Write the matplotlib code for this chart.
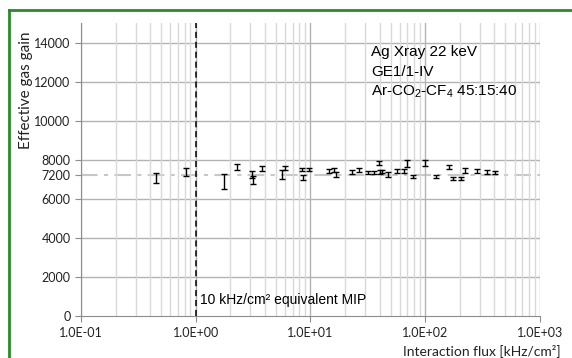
import matplotlib
matplotlib.use("Agg")
import matplotlib.pyplot as plt
from matplotlib.ticker import FixedLocator, FixedFormatter, LogLocator, NullFormatter

flux = [0.454, 0.823, 1.75, 2.29, 3.10, 3.18, 3.81, 5.62, 5.97, 8.45, 8.6, 9.78,
        14.4, 15.9, 16.6, 22.9, 26.2, 31.6, 36.1, 39.6, 40.2, 41.9, 47.8, 56.5,
        65.9, 70.0, 78.0, 100, 124, 161, 173, 204, 223, 282, 344, 407]
gain = [7060, 7360, 6870, 7630, 7230, 6950, 7540, 7260, 7560, 7500, 7100, 7500,
        7430, 7470, 7250, 7390, 7480, 7350, 7350, 7810, 7390, 7400, 7240, 7410,
        7430, 7800, 7140, 7830, 7120, 7630, 7060, 7060, 7460, 7430, 7370, 7350]
gain_err = [250, 210, 390, 150, 170, 200, 120, 230, 110, 100, 130, 100,
            110, 100, 120, 100, 110, 90, 90, 100, 100, 90, 110, 110,
            110, 170, 90, 140, 80, 110, 80, 80, 140, 110, 90, 90]

ref_gain = 7200
mip_flux = 1.0
x_ticks = [0.1, 1, 10, 100, 1000]
x_labels = ["1.0E-01", "1.0E+00", "1.0E+01", "1.0E+02", "1.0E+03"]
y_ticks = [0, 2000, 4000, 6000, 7200, 8000, 10000, 12000, 14000]
y_grid = [2000, 4000, 6000, 8000, 10000, 12000, 14000]

plt.rcParams["mathtext.fontset"] = "custom"
plt.rcParams["mathtext.rm"] = "Liberation Sans"
plt.rcParams["mathtext.it"] = "Liberation Sans"

fig = plt.figure(figsize=(5.72, 3.58), dpi=100)
ax = fig.add_axes([81 / 572, 1 - 316 / 358, (540 - 81) / 572, (316 - 23) / 358])

ax.set_xscale("log")
ax.set_xlim(0.1, 1000)
ax.set_ylim(0, 15000)

# grid
ax.xaxis.set_major_locator(FixedLocator(x_ticks))
ax.xaxis.set_major_formatter(FixedFormatter(x_labels))
ax.xaxis.set_minor_locator(LogLocator(base=10, subs=range(2, 10)))
ax.xaxis.set_minor_formatter(NullFormatter())
ax.grid(which="major", axis="x", color="#b3b3b3", lw=1.0)
ax.grid(which="minor", axis="x", color="#d9d9d9", lw=1.0)
for g in y_grid:
    ax.axhline(g, color="#b3b3b3", lw=1.0, zorder=0.5)

ax.set_yticks(y_ticks)
ax.set_yticklabels([str(t) for t in y_ticks])

ax.axhline(ref_gain, color="#c8c8c8", lw=1.5, ls=(0, (8, 3, 2, 3)), zorder=1)
ax.axvline(mip_flux, color="black", lw=1.1, ls=(0, (4, 2.5)), zorder=2)

ax.errorbar(flux, gain, yerr=gain_err, fmt="none", ecolor="black",
            elinewidth=1.0, capsize=2.5, capthick=1.0, zorder=3)

for s in ["top", "right"]:
    ax.spines[s].set_visible(False)
for s in ["left", "bottom"]:
    ax.spines[s].set_color("#8c8c8c")
ax.tick_params(which="major", length=4, color="#8c8c8c", labelsize=9,
               labelcolor="#222222")
ax.tick_params(which="minor", length=0)
ax.tick_params(axis="x", pad=4)
for lab in ax.get_xticklabels() + ax.get_yticklabels():
    lab.set_fontfamily("Lato")

# axis titles sit where the original placed them
fig.text(26 / 572, 1 - 90 / 358, "Effective gas gain", rotation=90, ha="center",
         va="center", fontsize=11, family="Lato", color="#222222")
fig.text(561 / 572, 1 - 351 / 358, "Interaction flux [kHz/cm²]", ha="right",
         va="center", fontsize=10, family="Lato", color="#222222")

# annotation block
fig.text(371 / 572, 1 - 52 / 358, "Ag Xray 22 keV", ha="left", va="center",
         fontsize=11, family="Liberation Sans")
fig.text(371 / 572, 1 - 72 / 358, "GE1/1-IV", ha="left", va="center",
         fontsize=11, family="Liberation Sans")
fig.text(371 / 572, 1 - 92 / 358, "Ar-CO$_2$-CF$_4$ 45:15:40", ha="left",
         va="center", fontsize=11, family="Liberation Sans")
fig.text(200 / 572, 1 - 304 / 358, "10 kHz/cm² equivalent MIP", ha="left",
         va="baseline", fontsize=10, family="Liberation Sans")

# green frame
fig.add_artist(plt.Line2D([9 / 572, 9 / 572], [0, 1 - 10 / 358],
                          transform=fig.transFigure, color="#2a8a2a", lw=2))
fig.add_artist(plt.Line2D([9 / 572, 1], [1 - 10 / 358, 1 - 10 / 358],
                          transform=fig.transFigure, color="#2a8a2a", lw=2))

fig.savefig("out.png", dpi=100)
